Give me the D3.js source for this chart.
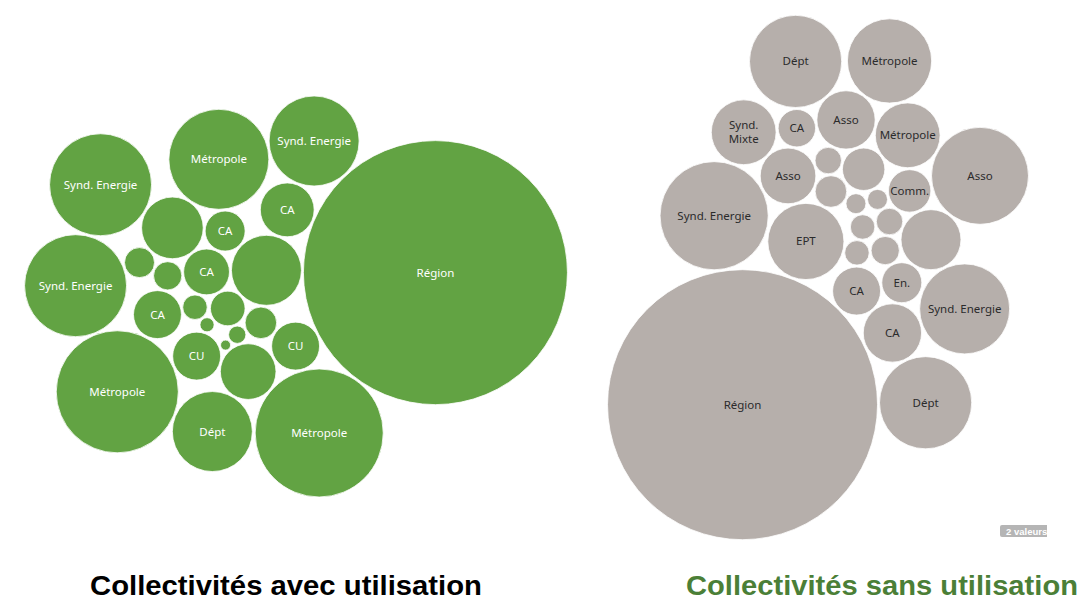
<!DOCTYPE html>
<html><head><meta charset="utf-8">
<script src="https://cdn.jsdelivr.net/npm/d3@7"></script>
<style>body{margin:0;background:#fff}svg{display:block}</style>
</head><body><svg id="c" width="1083" height="601"></svg>
<script>
// Collectivités avec utilisation (green)
const leftLabels = ["Métropole","","CU","Synd. Energie","Dépt","","CA","CA","CA","CA","","","","","","","","","Synd. Energie","CU","Synd. Energie","","Métropole","Région","Métropole"];
const leftValues = [100,6,23,104,64,2,21,16,23,29,38,10,49,9,12,8,31,3,104,23,81,1,164,697,149];
// Collectivités sans utilisation (grey)
const rightLabels = ["Synd.\nMixte","Asso","","","","Métropole","Synd. Energie","CA","","Asso","","","Synd. Energie","","","","Dépt","Comm.","CA","En.","CA","Dépt","Asso","Métropole","","EPT","Région"];
const rightValues = [42,94,6,8,4,71,117,14,7,34,6,10,81,18,4,36,85,18,34,16,23,85,31,42,7,58,729];
const titles = ["Collectivités avec utilisation","Collectivités sans utilisation"];
const badgeText = "2 valeurs";

const svg = d3.select("#c");
const rScale = d3.scaleSqrt().domain([0, 729]).range([0, 135]);

function orient(nodes, big, rest, angleDeg) {
  const mx = d3.mean(rest, n => n.x), my = d3.mean(rest, n => n.y);
  const rot = angleDeg * Math.PI / 180 - Math.atan2(big.y - my, big.x - mx);
  const c = Math.cos(rot), s = Math.sin(rot);
  nodes.forEach(n => { const x = n.x - mx, y = n.y - my; n.x = mx + x*c - y*s; n.y = my + x*s + y*c; });
}

function layout(labels, values, angleDeg, box, fx, fy) {
  let nodes = values.map((v,i)=>({label: labels[i], value: v, i, r: rScale(v) + 1}));
  nodes.sort((a,b) => d3.ascending(a.value, b.value) || d3.ascending(a.i, b.i));
  d3.packSiblings(nodes);
  const big = nodes.reduce((a,b)=> b.value > a.value ? b : a);
  const rest = nodes.filter(n => n !== big);
  orient(nodes, big, rest, angleDeg);
  const mx = d3.mean(rest, n => n.x), my = d3.mean(rest, n => n.y);
  const sim = d3.forceSimulation(nodes)
    .force("x", d3.forceX(mx).strength(fx))
    .force("y", d3.forceY(my).strength(fy))
    .force("collide", d3.forceCollide(d => d.r).strength(1).iterations(6))
    .stop();
  for (let t = 0; t < 300; t++) sim.tick();
  orient(nodes, big, rest, angleDeg);
  const x0 = d3.min(nodes, n => n.x - n.r), x1 = d3.max(nodes, n => n.x + n.r);
  const y0 = d3.min(nodes, n => n.y - n.r), y1 = d3.max(nodes, n => n.y + n.r);
  const k = Math.min(1.0, box[2] / (x1 - x0), box[3] / (y1 - y0));
  const ox = (x0 + x1)/2, oy = (y0 + y1)/2;
  const cx = box[0] + box[2]/2, cy = box[1] + box[3]/2;
  nodes.forEach(n => { n.x = cx + (n.x - ox)*k; n.y = cy + (n.y - oy)*k; n.r = n.r*k - 1; });
  return nodes;
}

function draw(nodes, fill, textFill) {
  const g = svg.append("g");
  const gg = g.selectAll("g").data(nodes).join("g")
    .attr("transform", d => `translate(${d.x},${d.y})`);
  gg.append("circle").attr("r", d => d.r).attr("fill", fill)
    .attr("stroke", "#fff").attr("stroke-width", 0.8);
  gg.append("text")
    .attr("text-anchor", "middle")
    .attr("font-family", "'Noto Sans', 'Open Sans', sans-serif")
    .attr("font-size", 11.5)
    .attr("fill", textFill)
    .each(function(d){
      const lines = d.label ? d.label.split("\n") : [];
      const t = d3.select(this);
      lines.forEach((ln, i) => {
        t.append("tspan").attr("x", 0)
          .attr("y", (i - (lines.length - 1)/2) * 14 + 4)
          .text(ln);
      });
    });
}

const L = layout(leftLabels, leftValues, -6, [8, 81, 576, 431], 0.03, 0.05);
const R = layout(rightLabels, rightValues, 121, [593, 13, 450, 529], 0.05, 0.025);
draw(L, "#62a343", "#ffffff");
draw(R, "#b6afab", "#2b2b2b");

// titles
svg.append("text").attr("x", 90).attr("y", 595)
  .attr("font-family", "'Liberation Sans', Arial, sans-serif").attr("font-weight", "bold")
  .attr("font-size", 27).attr("textLength", 392).attr("lengthAdjust", "spacingAndGlyphs")
  .attr("fill", "#000").text(titles[0]);
svg.append("text").attr("x", 686).attr("y", 595)
  .attr("font-family", "'Liberation Sans', Arial, sans-serif").attr("font-weight", "bold")
  .attr("font-size", 27).attr("textLength", 392).attr("lengthAdjust", "spacingAndGlyphs")
  .attr("fill", "#4b7f37").text(titles[1]);

// badge
const defs = svg.append("defs");
defs.append("clipPath").attr("id", "bclip").append("rect")
  .attr("x", 998).attr("y", 522).attr("width", 49).attr("height", 18);
const bg = svg.append("g").attr("clip-path", "url(#bclip)");
bg.append("rect").attr("x", 1000).attr("y", 525).attr("width", 60).attr("height", 12)
  .attr("rx", 2).attr("fill", "#b5b5b5");
bg.append("text").attr("x", 1006).attr("y", 534.5)
  .attr("font-family", "'Liberation Sans', Arial, sans-serif").attr("font-weight", "bold")
  .attr("font-size", 9.5).attr("fill", "#fff").text(badgeText);
</script>
</body></html>
